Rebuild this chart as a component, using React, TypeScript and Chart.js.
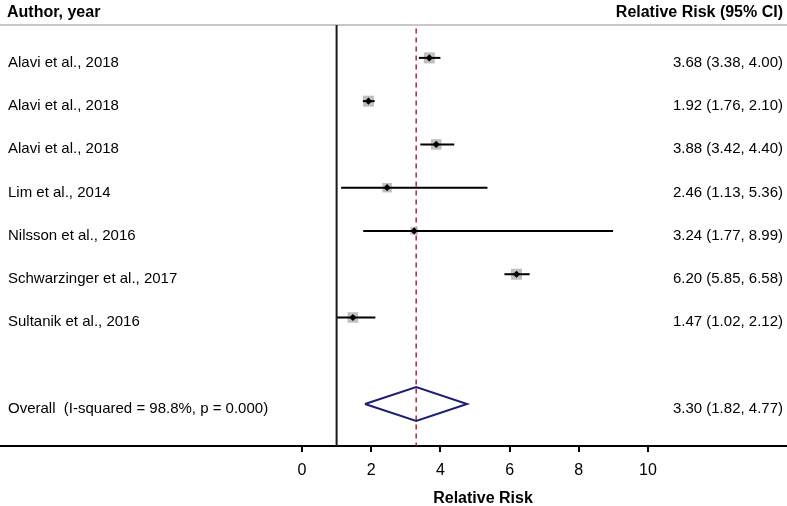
import React, { useEffect, useRef } from "react";
import { Chart, registerables } from "chart.js";

Chart.register(...registerables);

const studies = [
  "Alavi et al., 2018",
  "Alavi et al., 2018",
  "Alavi et al., 2018",
  "Lim et al., 2014",
  "Nilsson et al., 2016",
  "Schwarzinger et al., 2017",
  "Sultanik et al., 2016",
];
const estimates = [3.68, 1.92, 3.88, 2.46, 3.24, 6.2, 1.47];
const lower = [3.38, 1.76, 3.42, 1.13, 1.77, 5.85, 1.02];
const upper = [4.0, 2.1, 4.4, 5.36, 8.99, 6.58, 2.12];
const ciLabels = [
  "3.68 (3.38, 4.00)",
  "1.92 (1.76, 2.10)",
  "3.88 (3.42, 4.40)",
  "2.46 (1.13, 5.36)",
  "3.24 (1.77, 8.99)",
  "6.20 (5.85, 6.58)",
  "1.47 (1.02, 2.12)",
];
const boxSides = [11, 11, 10.5, 9.5, 7.5, 11, 10.5];
const rows = [1, 2, 3, 4, 5, 6, 7];

const overallLabel = "Overall  (I-squared = 98.8%, p = 0.000)";
const overallCiLabel = "3.30 (1.82, 4.77)";
const overallEst = 3.3;
const overallLo = 1.82;
const overallHi = 4.77;
const overallRow = 9;

const tickValues = [0, 2, 4, 6, 8, 10];
const nullValue = 1;

const X_MIN = -8.728;
const X_MAX = 14.017;
const Y_MIN = 0.24;
const Y_MAX = 9.97;
const FONT = "'Liberation Sans', Arial, Helvetica, sans-serif";

export default function App() {
  const ref = useRef<HTMLCanvasElement | null>(null);

  useEffect(() => {
    document.body.style.margin = "0";
    const canvas = ref.current;
    if (!canvas) return;

    const textPlugin = {
      id: "forestText",
      afterDraw(chart: any) {
        const ctx = chart.ctx;
        const y = chart.scales.y;
        const x = chart.scales.x;
        ctx.save();
        ctx.fillStyle = "#000";
        ctx.textBaseline = "alphabetic";
        ctx.font = `bold 16px ${FONT}`;
        ctx.textAlign = "left";
        ctx.fillText("Author, year", 7, 17);
        ctx.textAlign = "right";
        ctx.fillText("Relative Risk (95% CI)", 783, 17);

        ctx.font = `15px ${FONT}`;
        rows.forEach((r, i) => {
          const py = y.getPixelForValue(r) + 9;
          ctx.textAlign = "left";
          ctx.fillText(studies[i], 8, py);
          ctx.textAlign = "right";
          ctx.fillText(ciLabels[i], 783, py);
        });
        const oy = y.getPixelForValue(overallRow) + 9;
        ctx.textAlign = "left";
        ctx.fillText(overallLabel, 8, oy);
        ctx.textAlign = "right";
        ctx.fillText(overallCiLabel, 783, oy);

        ctx.font = `bold 16px ${FONT}`;
        ctx.textAlign = "center";
        const cx = (x.getPixelForValue(0) + x.getPixelForValue(10)) / 2 + 8;
        ctx.fillText("Relative Risk", cx, 503);
        ctx.restore();
      },
    };

    const ciDatasets = rows.map((r, i) => ({
      type: "line" as const,
      data: [
        { x: lower[i], y: r },
        { x: upper[i], y: r },
      ],
      borderColor: "#000",
      borderWidth: 2,
      pointRadius: 0,
      showLine: true,
      order: 4,
      clip: false,
    }));

    const chart = new Chart(canvas, {
      type: "scatter",
      data: {
        datasets: [
          {
            type: "line",
            data: [
              { x: X_MIN, y: Y_MIN },
              { x: X_MAX, y: Y_MIN },
            ],
            borderColor: "#c8c8c8",
            borderWidth: 2,
            pointRadius: 0,
            order: 8,
            clip: false,
          } as any,
          {
            type: "line",
            data: [
              { x: nullValue, y: Y_MIN },
              { x: nullValue, y: Y_MAX },
            ],
            borderColor: "#1a1a1a",
            borderWidth: 2,
            pointRadius: 0,
            order: 7,
            clip: false,
          } as any,
          {
            type: "line",
            data: [
              { x: overallEst, y: Y_MIN + 0.08 },
              { x: overallEst, y: Y_MAX },
            ],
            borderColor: "#b0243a",
            borderWidth: 1.5,
            borderDash: [5, 4],
            pointRadius: 0,
            order: 6,
            clip: false,
          } as any,
          {
            data: rows.map((r, i) => ({ x: estimates[i], y: r })),
            pointStyle: "rect",
            pointRadius: boxSides.map((s) => s / Math.SQRT2),
            backgroundColor: "#bfbfbf",
            borderWidth: 0,
            order: 5,
          } as any,
          ...ciDatasets,
          {
            data: rows.map((r, i) => ({ x: estimates[i], y: r })),
            pointStyle: "rectRot",
            pointRadius: 3.6,
            backgroundColor: "#000",
            borderColor: "#000",
            borderWidth: 0,
            order: 1,
          } as any,
          {
            type: "line",
            data: [
              { x: overallLo, y: overallRow },
              { x: overallEst, y: overallRow - 0.39 },
              { x: overallHi, y: overallRow },
              { x: overallEst, y: overallRow + 0.39 },
              { x: overallLo, y: overallRow },
            ],
            borderColor: "#1e1e78",
            borderWidth: 2,
            pointRadius: 0,
            fill: false,
            tension: 0,
            order: 2,
          } as any,
        ],
      },
      options: {
        animation: false,
        responsive: false,
        maintainAspectRatio: false,
        layout: { autoPadding: false, padding: { top: 25, left: 0, right: 0, bottom: 0 } },
        plugins: {
          legend: { display: false },
          tooltip: { enabled: false },
          title: { display: false },
        },
        scales: {
          x: {
            type: "linear",
            min: X_MIN,
            max: X_MAX,
            afterBuildTicks: (scale: any) => {
              scale.ticks = tickValues.map((v) => ({ value: v }));
            },
            afterFit: (scale: any) => {
              scale.height = 60;
            },
            grid: {
              drawOnChartArea: false,
              drawTicks: true,
              tickLength: 6,
              color: "#000",
              lineWidth: 2,
            },
            border: { display: true, color: "#000", width: 2 },
            ticks: {
              color: "#000",
              font: { size: 16, family: FONT },
              padding: 9,
              maxRotation: 0,
              autoSkip: false,
            },
          },
          y: {
            type: "linear",
            display: false,
            reverse: true,
            min: Y_MIN,
            max: Y_MAX,
          },
        },
      },
      plugins: [textPlugin],
    } as any);

    return () => chart.destroy();
  }, []);

  return (
    <div style={{ width: 787, height: 506 }}>
      <canvas ref={ref} width={787} height={506} style={{ display: "block", width: 787, height: 506 }} />
    </div>
  );
}
